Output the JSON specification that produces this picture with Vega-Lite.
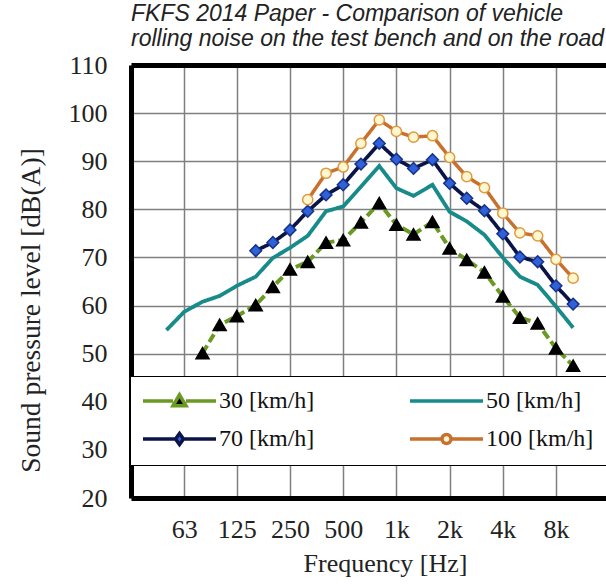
{
  "$schema": "https://vega.github.io/schema/vega-lite/v6.json",
  "width": 475,
  "height": 433,
  "autosize": {"type": "none"},
  "padding": {"left": 131, "top": 65, "right": 0, "bottom": 86},
  "background": "white",
  "title": {
    "text": ["FKFS  2014 Paper - Comparison of vehicle", "rolling noise on the test bench and on the road"],
    "anchor": "start",
    "frame": "group",
    "font": "Liberation Sans",
    "fontStyle": "italic",
    "fontWeight": "normal",
    "fontSize": 23,
    "lineHeight": 25,
    "color": "#222222",
    "offset": 1
  },
  "config": {"view": {"stroke": null}},
  "data": {
    "values": [
      {"speed": "30 [km/h]", "freq": 80, "spl": 50.1},
      {"speed": "30 [km/h]", "freq": 100, "spl": 56.0},
      {"speed": "30 [km/h]", "freq": 125, "spl": 57.8},
      {"speed": "30 [km/h]", "freq": 160, "spl": 60.1},
      {"speed": "30 [km/h]", "freq": 200, "spl": 63.9},
      {"speed": "30 [km/h]", "freq": 250, "spl": 67.5},
      {"speed": "30 [km/h]", "freq": 315, "spl": 69.1},
      {"speed": "30 [km/h]", "freq": 400, "spl": 73.1},
      {"speed": "30 [km/h]", "freq": 500, "spl": 73.6},
      {"speed": "30 [km/h]", "freq": 630, "spl": 77.3},
      {"speed": "30 [km/h]", "freq": 800, "spl": 81.3},
      {"speed": "30 [km/h]", "freq": 1000, "spl": 76.8},
      {"speed": "30 [km/h]", "freq": 1250, "spl": 74.8},
      {"speed": "30 [km/h]", "freq": 1600, "spl": 77.4},
      {"speed": "30 [km/h]", "freq": 2000, "spl": 71.9},
      {"speed": "30 [km/h]", "freq": 2500, "spl": 69.5},
      {"speed": "30 [km/h]", "freq": 3150, "spl": 66.9},
      {"speed": "30 [km/h]", "freq": 4000, "spl": 61.9},
      {"speed": "30 [km/h]", "freq": 5000, "spl": 57.5},
      {"speed": "30 [km/h]", "freq": 6300, "spl": 56.3},
      {"speed": "30 [km/h]", "freq": 8000, "spl": 51.1},
      {"speed": "30 [km/h]", "freq": 10000, "spl": 47.5},
      {"speed": "50 [km/h]", "freq": 50, "spl": 54.9},
      {"speed": "50 [km/h]", "freq": 63, "spl": 58.7},
      {"speed": "50 [km/h]", "freq": 80, "spl": 60.8},
      {"speed": "50 [km/h]", "freq": 100, "spl": 62.0},
      {"speed": "50 [km/h]", "freq": 125, "spl": 64.1},
      {"speed": "50 [km/h]", "freq": 160, "spl": 66.0},
      {"speed": "50 [km/h]", "freq": 200, "spl": 69.9},
      {"speed": "50 [km/h]", "freq": 250, "spl": 72.0},
      {"speed": "50 [km/h]", "freq": 315, "spl": 74.5},
      {"speed": "50 [km/h]", "freq": 400, "spl": 79.6},
      {"speed": "50 [km/h]", "freq": 500, "spl": 80.6},
      {"speed": "50 [km/h]", "freq": 630, "spl": 84.7},
      {"speed": "50 [km/h]", "freq": 800, "spl": 89.0},
      {"speed": "50 [km/h]", "freq": 1000, "spl": 84.4},
      {"speed": "50 [km/h]", "freq": 1250, "spl": 82.8},
      {"speed": "50 [km/h]", "freq": 1600, "spl": 85.1},
      {"speed": "50 [km/h]", "freq": 2000, "spl": 79.5},
      {"speed": "50 [km/h]", "freq": 2500, "spl": 77.5},
      {"speed": "50 [km/h]", "freq": 3150, "spl": 74.7},
      {"speed": "50 [km/h]", "freq": 4000, "spl": 70.0},
      {"speed": "50 [km/h]", "freq": 5000, "spl": 66.0},
      {"speed": "50 [km/h]", "freq": 6300, "spl": 64.3},
      {"speed": "50 [km/h]", "freq": 8000, "spl": 59.8},
      {"speed": "50 [km/h]", "freq": 10000, "spl": 55.4},
      {"speed": "70 [km/h]", "freq": 160, "spl": 71.4},
      {"speed": "70 [km/h]", "freq": 200, "spl": 73.1},
      {"speed": "70 [km/h]", "freq": 250, "spl": 75.7},
      {"speed": "70 [km/h]", "freq": 315, "spl": 79.6},
      {"speed": "70 [km/h]", "freq": 400, "spl": 83.0},
      {"speed": "70 [km/h]", "freq": 500, "spl": 85.1},
      {"speed": "70 [km/h]", "freq": 630, "spl": 89.4},
      {"speed": "70 [km/h]", "freq": 800, "spl": 93.7},
      {"speed": "70 [km/h]", "freq": 1000, "spl": 90.4},
      {"speed": "70 [km/h]", "freq": 1250, "spl": 88.5},
      {"speed": "70 [km/h]", "freq": 1600, "spl": 90.3},
      {"speed": "70 [km/h]", "freq": 2000, "spl": 85.4},
      {"speed": "70 [km/h]", "freq": 2500, "spl": 82.3},
      {"speed": "70 [km/h]", "freq": 3150, "spl": 79.7},
      {"speed": "70 [km/h]", "freq": 4000, "spl": 74.9},
      {"speed": "70 [km/h]", "freq": 5000, "spl": 70.1},
      {"speed": "70 [km/h]", "freq": 6300, "spl": 69.1},
      {"speed": "70 [km/h]", "freq": 8000, "spl": 64.1},
      {"speed": "70 [km/h]", "freq": 10000, "spl": 60.3},
      {"speed": "100 [km/h]", "freq": 315, "spl": 82.0},
      {"speed": "100 [km/h]", "freq": 400, "spl": 87.5},
      {"speed": "100 [km/h]", "freq": 500, "spl": 88.8},
      {"speed": "100 [km/h]", "freq": 630, "spl": 93.7},
      {"speed": "100 [km/h]", "freq": 800, "spl": 98.6},
      {"speed": "100 [km/h]", "freq": 1000, "spl": 96.2},
      {"speed": "100 [km/h]", "freq": 1250, "spl": 95.0},
      {"speed": "100 [km/h]", "freq": 1600, "spl": 95.3},
      {"speed": "100 [km/h]", "freq": 2000, "spl": 90.8},
      {"speed": "100 [km/h]", "freq": 2500, "spl": 86.8},
      {"speed": "100 [km/h]", "freq": 3150, "spl": 84.5},
      {"speed": "100 [km/h]", "freq": 4000, "spl": 79.2},
      {"speed": "100 [km/h]", "freq": 5000, "spl": 75.1},
      {"speed": "100 [km/h]", "freq": 6300, "spl": 74.5},
      {"speed": "100 [km/h]", "freq": 8000, "spl": 69.6},
      {"speed": "100 [km/h]", "freq": 10000, "spl": 65.7}
    ]
  },
  "layer": [
    {
      "mark": {"type": "line"},
      "encoding": {
        "x": {
          "field": "freq", "type": "quantitative",
          "scale": {"type": "log", "domain": [31.5, 15350], "nice": false},
          "axis": {
            "orient": "bottom",
            "values": [63, 125, 250, 500, 1000, 2000, 4000, 8000],
            "labelExpr": "datum.value >= 1000 ? (datum.value / 1000) + 'k' : datum.label",
            "grid": true, "gridColor": "#7f7f7f", "gridWidth": 1.5,
            "domain": true, "domainColor": "black", "domainWidth": 5,
            "ticks": false, "tickSize": 0,
            "labelFont": "Liberation Serif", "labelFontSize": 26, "labelColor": "#222222",
            "labelPadding": 18, "labelOverlap": false, "labelFlush": false,
            "title": "Frequency [Hz]",
            "titleFont": "Liberation Serif", "titleFontSize": 26, "titleFontWeight": "normal",
            "titleColor": "#222222", "titlePadding": 8, "titleX": 254
          }
        },
        "y": {
          "field": "spl", "type": "quantitative",
          "scale": {"domain": [20, 110], "nice": false, "zero": false},
          "axis": {
            "values": [20, 30, 40, 50, 60, 70, 80, 90, 100, 110],
            "grid": true, "gridColor": "#7f7f7f", "gridWidth": 1.5,
            "domain": true, "domainColor": "black", "domainWidth": 5,
            "ticks": false, "tickSize": 0,
            "labelFont": "Liberation Serif", "labelFontSize": 26, "labelColor": "#222222",
            "labelPadding": 24,
            "title": "Sound pressure level [dB(A)]",
            "titleFont": "Liberation Serif", "titleFontSize": 27.5, "titleFontWeight": "normal",
            "titleColor": "#222222", "titleX": -100, "titleY": 245, "titleBaseline": "middle"
          }
        },
        "stroke": {
          "field": "speed", "type": "nominal",
          "scale": {"domain": ["30 [km/h]", "50 [km/h]", "70 [km/h]", "100 [km/h]"], "range": ["#6a9a24", "#178a8a", "#0b1448", "#c8702e"]},
          "legend": null
        },
        "strokeDash": {
          "field": "speed", "type": "nominal",
          "scale": {"domain": ["30 [km/h]", "50 [km/h]", "70 [km/h]", "100 [km/h]"], "range": [[9, 4], [1, 0], [1, 0], [1, 0]]},
          "legend": null
        },
        "strokeWidth": {
          "field": "speed", "type": "nominal",
          "scale": {"domain": ["30 [km/h]", "50 [km/h]", "70 [km/h]", "100 [km/h]"], "range": [4, 3.5, 5, 3]},
          "legend": null
        }
      }
    },
    {
      "transform": [{"filter": {"field": "speed", "oneOf": ["30 [km/h]", "70 [km/h]", "100 [km/h]"]}}],
      "mark": {"type": "point", "filled": true, "opacity": 1, "strokeWidth": 1.5},
      "encoding": {
        "x": {
          "field": "freq", "type": "quantitative",
          "axis": {"orient": "top", "labels": false, "ticks": false, "grid": false, "domain": true, "domainColor": "black", "domainWidth": 5, "title": null}
        },
        "y": {"field": "spl", "type": "quantitative"},
        "shape": {
          "field": "speed", "type": "nominal",
          "scale": {"domain": ["30 [km/h]", "70 [km/h]", "100 [km/h]"], "range": ["triangle-up", "diamond", "circle"]},
          "legend": null
        },
        "fill": {
          "field": "speed", "type": "nominal",
          "scale": {"domain": ["30 [km/h]", "70 [km/h]", "100 [km/h]"], "range": ["#000000", "#2f62d8", "#fff6d2"]},
          "legend": null
        },
        "stroke": {
          "field": "speed", "type": "nominal",
          "scale": {"domain": ["30 [km/h]", "70 [km/h]", "100 [km/h]"], "range": ["#000000", "#16328a", "#e09a3c"]},
          "legend": null
        },
        "size": {
          "field": "speed", "type": "nominal",
          "scale": {"domain": ["30 [km/h]", "70 [km/h]", "100 [km/h]"], "range": [170, 105, 58]},
          "legend": null
        }
      }
    },
    {
      "mark": {"type": "point", "filled": true, "opacity": 0},
      "encoding": {
        "x": {"field": "freq", "type": "quantitative", "axis": null},
        "y": {"field": "spl", "type": "quantitative"},
        "shape": {
          "field": "speed", "type": "nominal",
          "scale": {"domain": ["30 [km/h]", "50 [km/h]", "70 [km/h]", "100 [km/h]"], "range": ["M-1.2,0H1.8M3.1,0H6.1M2.45,-0.62L3.1,0.48L1.8,0.48Z", "M-1.2,0H6.1", "M-1.2,0H2.05M2.85,0H6.1M2.45,-0.55L2.85,0L2.45,0.55L2.05,0Z", "M-1.2,0H2.0M2.9,0H6.1M2.9,0A0.45,0.45 0 1,1 2.0,0A0.45,0.45 0 1,1 2.9,0Z"]},
          "legend": {"title": null, "orient": "none", "legendX": -1, "legendY": 311, "direction": "horizontal", "columns": 2, "symbolSize": 400, "symbolStrokeWidth": 3.5, "symbolOpacity": 1, "labelFont": "Liberation Serif", "labelFontSize": 24, "labelColor": "#111111", "labelOffset": 52, "columnPadding": 88, "rowPadding": 13, "padding": 13, "fillColor": "white", "strokeColor": "black"}
        },
        "fill": {
          "field": "speed", "type": "nominal",
          "scale": {"domain": ["30 [km/h]", "50 [km/h]", "70 [km/h]", "100 [km/h]"], "range": ["#000000", "#178a8a", "#2f62d8", "#fff6d2"]},
          "legend": {"title": null, "orient": "none", "legendX": -1, "legendY": 311, "direction": "horizontal", "columns": 2, "symbolSize": 400, "symbolStrokeWidth": 3.5, "symbolOpacity": 1, "labelFont": "Liberation Serif", "labelFontSize": 24, "labelColor": "#111111", "labelOffset": 52, "columnPadding": 88, "rowPadding": 13, "padding": 13, "fillColor": "white", "strokeColor": "black"}
        },
        "stroke": {
          "field": "speed", "type": "nominal",
          "scale": {"domain": ["30 [km/h]", "50 [km/h]", "70 [km/h]", "100 [km/h]"], "range": ["#6a9a24", "#178a8a", "#0b1448", "#c8702e"]},
          "legend": {"title": null, "orient": "none", "legendX": -1, "legendY": 311, "direction": "horizontal", "columns": 2, "symbolSize": 400, "symbolStrokeWidth": 3.5, "symbolOpacity": 1, "labelFont": "Liberation Serif", "labelFontSize": 24, "labelColor": "#111111", "labelOffset": 52, "columnPadding": 88, "rowPadding": 13, "padding": 13, "fillColor": "white", "strokeColor": "black"}
        }
      }
    }
  ],
  "resolve": {
    "scale": {"shape": "independent", "fill": "independent", "stroke": "independent", "size": "independent"},
    "axis": {"x": "independent"},
    "legend": {"shape": "independent", "fill": "independent", "stroke": "independent"}
  }
}
